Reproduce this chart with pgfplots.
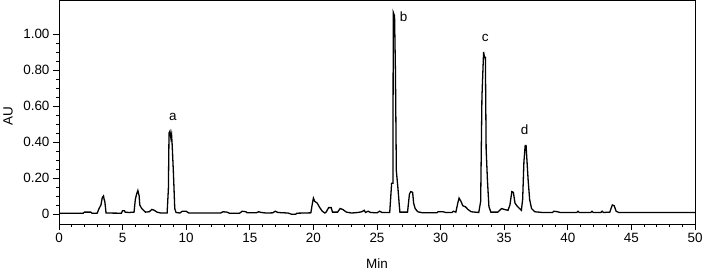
\documentclass[border=0pt]{standalone}
\usepackage{pgfplots}
\pgfplotsset{compat=1.18}
\usepackage{fontspec}
\setmainfont{Liberation Sans}
\pgfplotstableread{
x y
0 0.004
1.9 0.004
2.0 0.01
2.5 0.01
2.6 0.004
3.0 0.004
3.15 0.03
3.3 0.05
3.4 0.09
3.5 0.10
3.55 0.08
3.6 0.07
3.7 0.005
4.9 0.004
5.0 0.018
5.15 0.018
5.2 0.01
5.5 0.008
5.9 0.01
6.0 0.08
6.1 0.11
6.2 0.13
6.3 0.10
6.35 0.05
6.5 0.03
6.8 0.01
7.1 0.012
7.3 0.025
7.5 0.02
7.7 0.01
8.0 0.005
8.5 0.005
8.6 0.14
8.65 0.45
8.72 0.46
8.8 0.42
8.85 0.44
8.9 0.38
9.0 0.22
9.1 0.03
9.2 0.008
9.5 0.005
9.7 0.015
10.0 0.015
10.2 0.005
12.7 0.005
12.9 0.012
13.2 0.01
13.4 0.004
14.2 0.004
14.4 0.015
14.7 0.012
14.8 0.006
15.5 0.006
15.7 0.012
15.9 0.008
16.3 0.005
16.8 0.006
17.0 0.015
17.2 0.008
18.0 0.005
18.3 -0.002
18.6 -0.002
18.7 0.004
19.8 0.006
19.9 0.05
20.0 0.088
20.1 0.07
20.3 0.06
20.5 0.035
20.7 0.015
20.9 0.005
21.0 0.01
21.2 0.035
21.4 0.035
21.5 0.01
21.9 0.01
22.1 0.03
22.3 0.025
22.6 0.01
23.0 0.005
23.5 0.008
23.8 0.012
24.0 0.02
24.1 0.008
24.3 0.015
24.5 0.008
25.0 0.006
25.2 0.015
25.4 0.008
26.0 0.008
26.15 0.17
26.25 0.17
26.28 1.12
26.38 1.10
26.45 0.79
26.52 0.24
26.65 0.14
26.75 0.05
26.8 0.01
27.4 0.01
27.55 0.11
27.65 0.124
27.8 0.12
27.88 0.06
28.0 0.03
28.2 0.012
28.6 0.006
29.7 0.006
29.8 0.012
30.2 0.012
30.4 0.008
30.9 0.008
31.0 0.015
31.2 0.01
31.35 0.06
31.45 0.088
31.6 0.07
31.75 0.045
31.95 0.04
32.15 0.025
32.4 0.012
33.0 0.008
33.15 0.07
33.25 0.65
33.38 0.90
33.45 0.87
33.52 0.87
33.58 0.36
33.68 0.19
33.8 0.04
33.95 0.01
34.5 0.01
34.8 0.03
35.0 0.025
35.3 0.02
35.45 0.05
35.6 0.124
35.72 0.12
35.85 0.06
36.0 0.045
36.2 0.03
36.35 0.02
36.45 0.08
36.55 0.29
36.65 0.38
36.72 0.38
36.77 0.32
36.88 0.19
37.0 0.08
37.15 0.03
37.4 0.012
38.0 0.008
38.8 0.008
38.9 0.015
39.2 0.012
39.4 0.008
40.7 0.008
40.8 0.015
40.9 0.008
41.8 0.008
41.9 0.015
42.0 0.008
42.6 0.008
42.7 0.015
42.8 0.008
43.3 0.01
43.5 0.05
43.65 0.045
43.8 0.015
44.0 0.008
50 0.008
}\chrom
\begin{document}
\begin{tikzpicture}
\path[use as bounding box] (-59bp,-48bp) rectangle (644bp,224bp);
\begin{axis}[
  scale only axis,
  width=636bp, height=223bp,
  xmin=0, xmax=50, ymin=-0.056, ymax=1.183,
  xtick={0,5,...,50},
  minor x tick num=4,
  ytick={0,0.2,0.4,0.6,0.8,1.0},
  yticklabels={0,0.20,0.40,0.60,0.80,1.00},
  minor y tick num=3,
  tick align=outside,
  xtick pos=bottom, ytick pos=left,
  major tick length=6bp, minor tick length=3bp,
  tick style={black, line width=0.8bp},
  axis line style={line width=1bp},
  /pgf/number format/assume math mode=true,
  tick label style={font=\fontsize{13.5}{15}\selectfont},
  every axis x label/.style={at={(axis description cs:0.5,-0.177)},anchor=center,font=\fontsize{13.5}{15}\selectfont},
  every axis y label/.style={at={(axis description cs:-0.080,0.484)},anchor=center,rotate=90,font=\fontsize{13.5}{15}\selectfont},
  xlabel={Min}, ylabel={AU},
  clip=false,
]
\addplot[black, line width=1.3bp, sharp plot] table[x=x,y=y] {\chrom};
\node[font=\fontsize{13.5}{15}\selectfont] at (axis cs:8.96,0.54) {a};
\node[font=\fontsize{13.5}{15}\selectfont] at (axis cs:27.1,1.094) {b};
\node[font=\fontsize{13.5}{15}\selectfont] at (axis cs:33.5,0.978) {c};
\node[font=\fontsize{13.5}{15}\selectfont] at (axis cs:36.6,0.467) {d};
\end{axis}
\end{tikzpicture}
\end{document}
